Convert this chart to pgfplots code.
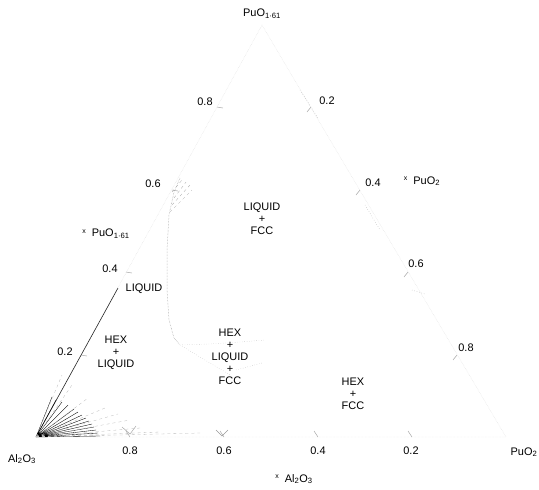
\documentclass[border=0pt]{standalone}
\usepackage{pgfplots}
\pgfplotsset{compat=1.18}
\usepackage{fontspec}
\setmainfont{Liberation Sans}
\tikzset{lab/.style={font=\fontsize{11}{12}\selectfont, align=center, text=black, inner sep=1pt}}
\begin{document}
\begin{tikzpicture}
\begin{axis}[
  scale only axis, width=539bp, height=490bp,
  xmin=0, xmax=539, ymin=0, ymax=490, y dir=reverse,
  hide axis, clip=false, unbounded coords=jump,
]
% triangle edges (faint)
\addplot[gray!30, densely dotted, line width=0.4pt] coordinates {(36,437) (506,437) (262,25) (36,437)};
% edge ticks
\addplot[gray!70, line width=0.5pt] coordinates {
 (130,437) (126,431) (nan,nan) (224,437) (220,431) (nan,nan) (318,437) (314,431) (nan,nan) (412,437) (408,431) (nan,nan)
 (81,355) (87,356) (nan,nan) (126,272) (132,273) (nan,nan) (172,190) (178,191) (nan,nan) (217,107) (223,108) (nan,nan)
 (311,107) (307,112) (nan,nan) (360,190) (356,195) (nan,nan) (408,272) (404,277) (nan,nan) (457,355) (453,360)
};
% LIQUID boundary line from Al2O3
\addplot[black!85, line width=0.6pt] coordinates {(36,437) (118,288)};
% dense tie-line fan near Al2O3
\addplot[black, line width=0.35pt] coordinates {
 (36,437) (100,436) (nan,nan) (36,437) (98,433) (nan,nan) (36,437) (96,430) (nan,nan)
 (36,437) (94,427) (nan,nan) (36,437) (92,424) (nan,nan) (36,437) (89,421) (nan,nan)
 (36,437) (86,418) (nan,nan) (36,437) (82,415) (nan,nan) (36,437) (78,412) (nan,nan)
 (36,437) (74,409) (nan,nan) (36,437) (68,405) (nan,nan) (36,437) (62,402) (nan,nan)
 (36,437) (56,400) (nan,nan) (36,437) (52,397)
};
% longer faint tie lines
\addplot[gray!55, dashed, line width=0.3pt] coordinates {
 (36,437) (140,428) (nan,nan) (36,437) (130,420) (nan,nan) (36,437) (118,414) (nan,nan)
 (36,437) (105,408) (nan,nan) (36,437) (88,398) (nan,nan) (36,437) (72,385) (nan,nan)
 (36,437) (62,375) (nan,nan) (36,437) (160,432) (nan,nan) (36,437) (200,433)
};
% liquid boundary (dotted curve)
\addplot[gray!75, densely dotted, line width=0.5pt] coordinates {
 (180,178) (174,192) (169,215) (167,250) (167,290) (169,320) (174,338) (180,345)
};
\addplot[gray!60, dotted, line width=0.4pt] coordinates {
 (180,345) (210,344) (240,342) (265,340) (nan,nan) (236,370) (262,363) (nan,nan) (180,345) (230,375)
};
% hatching near 0.6
\addplot[gray!70, dashed, line width=0.3pt] coordinates {
 (172,192) (182,180) (nan,nan) (174,198) (186,182) (nan,nan) (172,205) (190,185) (nan,nan)
 (170,212) (192,190)
};
% small V marks near the bottom edge
\addplot[gray!80, line width=0.4pt] coordinates {
 (122,427) (130,434) (136,426) (nan,nan) (216,430) (222,436) (228,430)
};
% right-edge fragments
\addplot[gray!60, dotted, line width=0.5pt] coordinates {
 (300,90) (318,118) (nan,nan) (365,205) (380,230) (nan,nan) (412,290) (425,294)
};
% labels
\node[lab] at (axis cs:262,14) {PuO\textsubscript{1·61}};
\node[lab] at (axis cs:205,102) {0.8};
\node[lab] at (axis cs:327,101) {0.2};
\node[lab] at (axis cs:153,184) {0.6};
\node[lab] at (axis cs:373,183) {0.4};
\node[lab] at (axis cs:422,181) {\textsuperscript{\scriptsize x}\enspace PuO\textsubscript{2}};
\node[lab] at (axis cs:106,234) {\textsuperscript{\scriptsize x}\enspace PuO\textsubscript{1·61}};
\node[lab] at (axis cs:110,269) {0.4};
\node[lab] at (axis cs:144,289) {LIQUID};
\node[lab] at (axis cs:416,264) {0.6};
\node[lab] at (axis cs:116,353) {HEX\\+\\LIQUID};
\node[lab] at (axis cs:65,352) {0.2};
\node[lab] at (axis cs:230,357) {HEX\\+\\LIQUID\\+\\FCC};
\node[lab] at (axis cs:262,219) {LIQUID\\+\\FCC};
\node[lab] at (axis cs:466,348) {0.8};
\node[lab] at (axis cs:353,394) {HEX\\+\\FCC};
\node[lab] at (axis cs:22,459) {Al\textsubscript{2}O\textsubscript{3}};
\node[lab] at (axis cs:130,451) {0.8};
\node[lab] at (axis cs:224,451) {0.6};
\node[lab] at (axis cs:318,451) {0.4};
\node[lab] at (axis cs:411,451) {0.2};
\node[lab] at (axis cs:524,452) {PuO\textsubscript{2}};
\node[lab] at (axis cs:294,479) {\textsuperscript{\scriptsize x}\enspace Al\textsubscript{2}O\textsubscript{3}};
\end{axis}
\pgfresetboundingbox
\path (0,0) rectangle (539bp,490bp);
\end{tikzpicture}
\end{document}
